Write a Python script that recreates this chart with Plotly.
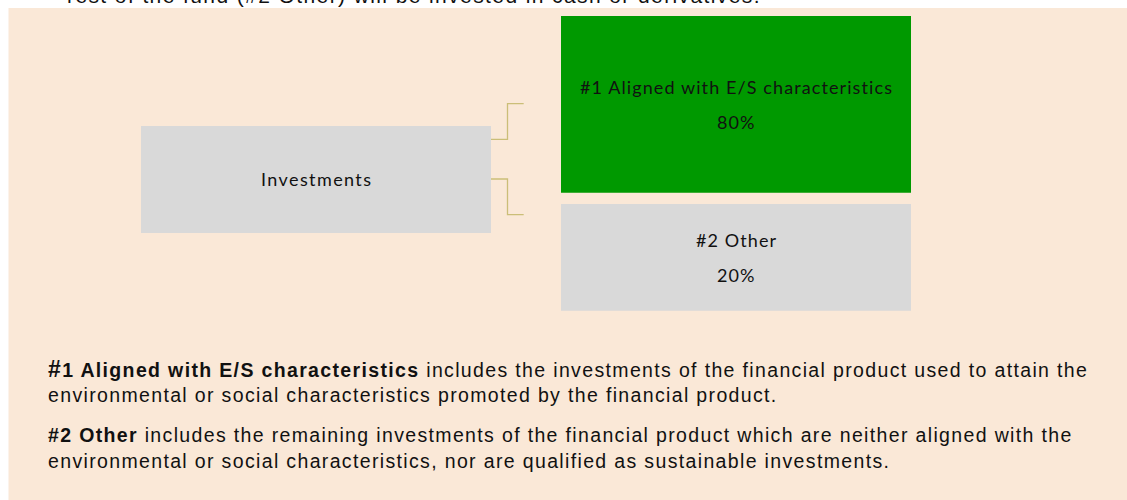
import plotly.graph_objects as go

# ---- data ----
root_label = ["Investments"]
branch_labels = ["#1 Aligned with E/S characteristics", "#2 Other"]
branch_values = [80, 20]  # percent
top_note = "rest of the fund (#2 Other) will be invested in cash or derivatives."
legend_lines = [
    "<b><span style='font-size:23px'>#</span>1 Aligned with E/S characteristics</b> includes the investments of the financial product used to attain the",
    "environmental or social characteristics promoted by the financial product.",
    "<b>#2 Other</b> includes the remaining investments of the financial product which are neither aligned with the",
    "environmental or social characteristics, nor are qualified as sustainable investments.",
]

# ---- layout constants (pixels) ----
W, H = 1127, 500
BG = "#FAE8D7"
GREY = "#D9D9D9"
GREEN = "#009900"
LINE = "#CBBE78"
BOX_FONT = "Lato, Calibri, sans-serif"
TXT_FONT = "Liberation Sans, Arial, sans-serif"
BOX_LS = "1.1px"
TXT_LS = "1.35px"


def spaced(t, ls):
    return f"<span style='letter-spacing:{ls}'>{t}</span>"


root_box = (141, 491, 126, 233)
branch_boxes = [(561, 911, 16, 192.7), (561, 911, 204, 310.7)]
branch_colors = [GREEN, GREY]
legend_y = [369, 395, 435, 461]

shapes = [
    dict(type="rect", xref="x", yref="y", x0=8.5, x1=W + 2, y0=8, y1=H + 2,
         fillcolor=BG, line=dict(width=0), layer="below"),
]
annotations = []

x0, x1, y0, y1 = root_box
shapes.append(dict(type="rect", xref="x", yref="y", x0=x0, x1=x1, y0=y0, y1=y1,
                   fillcolor=GREY, line=dict(width=0)))
annotations.append(dict(x=(x0 + x1) / 2, y=(y0 + y1) / 2 - 1, xref="x", yref="y",
                        text=spaced(root_label[0], "1.4px"), showarrow=False,
                        font=dict(family=BOX_FONT, size=18, color="#111111"),
                        xanchor="center", yanchor="middle"))

for (bx0, bx1, by0, by1), col, lab, val in zip(branch_boxes, branch_colors, branch_labels, branch_values):
    shapes.append(dict(type="rect", xref="x", yref="y", x0=bx0, x1=bx1, y0=by0, y1=by1,
                       fillcolor=col, line=dict(width=0)))
    cy = (by0 + by1) / 2
    annotations.append(dict(x=(bx0 + bx1) / 2, y=cy - 17.5, xref="x", yref="y",
                            text=spaced(lab, BOX_LS), showarrow=False,
                            font=dict(family=BOX_FONT, size=18, color="#111111"),
                            xanchor="center", yanchor="middle"))
    annotations.append(dict(x=(bx0 + bx1) / 2, y=cy + 18, xref="x", yref="y",
                            text=spaced(f"{val}%", BOX_LS), showarrow=False,
                            font=dict(family=BOX_FONT, size=18, color="#111111"),
                            xanchor="center", yanchor="middle"))

# connectors
shapes.append(dict(type="path", xref="x", yref="y",
                   path="M 491 139.3 L 507.5 139.3 L 507.5 103.7 L 523.7 103.7",
                   line=dict(color=LINE, width=1.3)))
shapes.append(dict(type="path", xref="x", yref="y",
                   path="M 491 179 L 507.5 179 L 507.5 214.7 L 523.7 214.7",
                   line=dict(color=LINE, width=1.3)))

# legend text
for yy, line in zip(legend_y, legend_lines):
    annotations.append(dict(x=46, y=yy, xref="x", yref="y", text=spaced(line, TXT_LS),
                            showarrow=False,
                            font=dict(family=TXT_FONT, size=19.5, color="#111111"),
                            xanchor="left", yanchor="middle"))

# top clipped note (paper coords so it is not hidden when above the range)
annotations.append(dict(x=65 / W, y=1 + 4 / H, xref="paper", yref="paper",
                        text=spaced(top_note, "1.4px"), showarrow=False,
                        font=dict(family=TXT_FONT, size=21, color="#111111"),
                        xanchor="left", yanchor="middle"))

fig = go.Figure()
fig.add_trace(go.Scatter(x=[0, W], y=[0, H], mode="markers",
                         marker=dict(opacity=0), hoverinfo="skip", showlegend=False))
fig.update_layout(
    width=W, height=H, margin=dict(l=0, r=0, t=0, b=0),
    paper_bgcolor="white", plot_bgcolor="white",
    xaxis=dict(range=[0, W], visible=False, fixedrange=True),
    yaxis=dict(range=[H, 0], visible=False, fixedrange=True),
    shapes=shapes, annotations=annotations, showlegend=False,
)
fig.write_html("out.html", config={"displayModeBar": False},
               post_script="document.body.style.margin='0';document.body.style.overflow='hidden';")
